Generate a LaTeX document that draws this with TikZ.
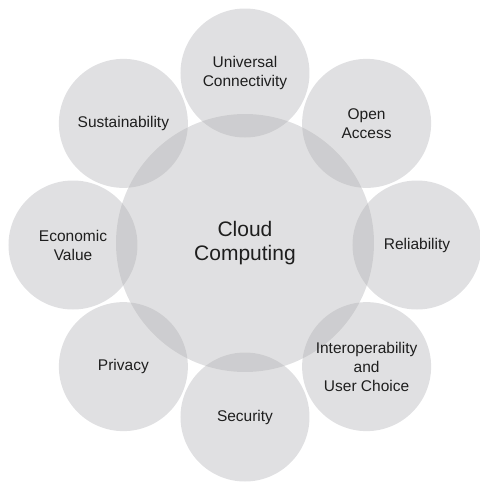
\documentclass[tikz,border=0pt]{standalone}
\usepackage{fontspec}
\setmainfont{Liberation Sans}
\definecolor{bubblegray}{RGB}{172,172,176}
\definecolor{labelgray}{RGB}{30,30,30}

\begin{document}
\begin{tikzpicture}[x=1pt,y=1pt,
    bubble/.style={circle,fill=bubblegray,fill opacity=.37,text opacity=1,
      text=labelgray,inner sep=0pt,minimum size=129pt,align=center,
      font=\fontsize{15.5}{19}\selectfont},
    hub/.style={bubble,minimum size=258pt,font=\fontsize{21}{24}\selectfont}]
    \useasboundingbox (-245,-238) rectangle (235,245);
    \node[hub]    at (0,2)         (cc)  {Cloud\\Computing};
    \node[bubble] at (90:172)  (uc)  {Universal\\Connectivity};
    \node[bubble] at (45:172)  (oa)  {Open\\Access};
    \node[bubble] at (0:172)   (rel) {Reliability};
    \node[bubble] at (-45:172) (iop) {Interoperability\\and\\User Choice};
    \node[bubble] at (-90:172) (sec) {Security};
    \node[bubble] at (-135:172) (pri) {Privacy};
    \node[bubble] at (180:172) (ev)  {Economic\\Value};
    \node[bubble] at (135:172) (sus) {Sustainability};
  \end{tikzpicture}
\end{document}
